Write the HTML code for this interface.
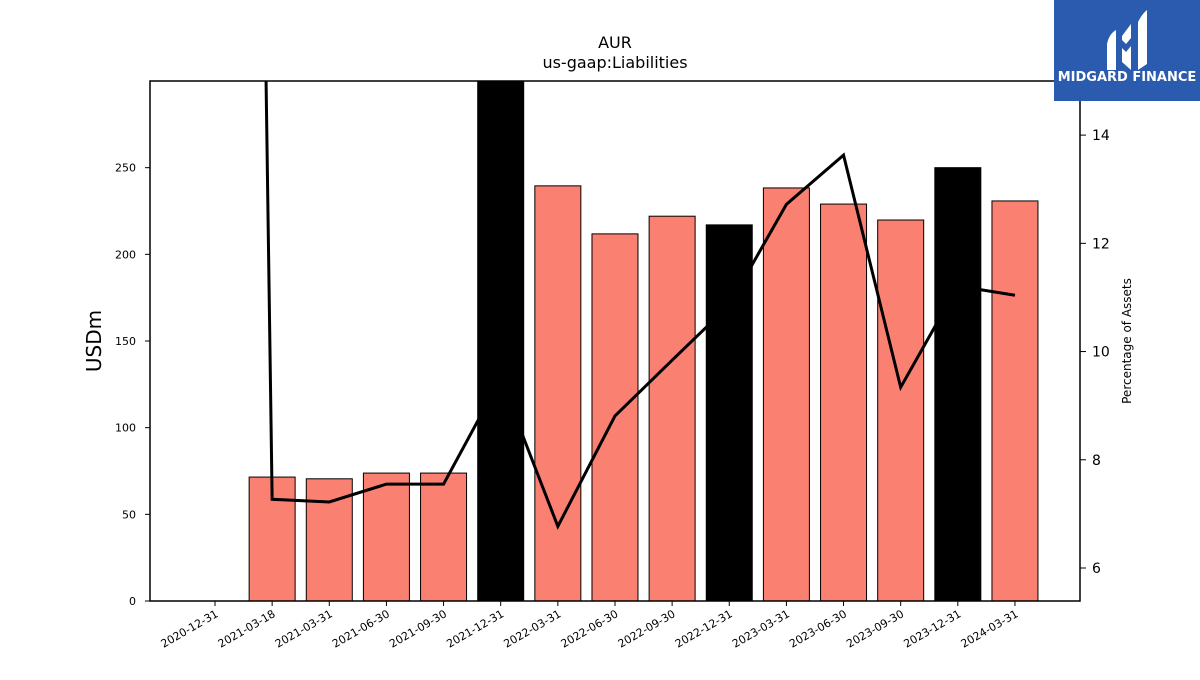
<!DOCTYPE html>
<html><head><meta charset="utf-8"><style>
body{margin:0;background:#fff;font-family:"Liberation Sans","DejaVu Sans",sans-serif;}
svg text{font-family:"DejaVu Sans","Liberation Sans",sans-serif;}
</style></head><body>
<svg id="chart" width="1200" height="675" xmlns="http://www.w3.org/2000/svg">
<rect width="1200" height="675" fill="#fff"/>
<text x="615" y="48" text-anchor="middle" font-size="16">AUR</text>
<text x="615" y="68" text-anchor="middle" font-size="16">us-gaap:Liabilities</text>
<g id="bars"></g><g id="line"></g>
<rect x="150" y="81" width="930" height="520" fill="none" stroke="#000" stroke-width="1.5"/>
<g id="axes"></g>
<text transform="translate(101,341) rotate(-90)" text-anchor="middle" font-size="20">USDm</text>
<text transform="translate(1131,341) rotate(-90)" text-anchor="middle" font-size="12">Percentage of Assets</text>
<g>
<rect x="1054" y="0" width="146" height="101" fill="#2b5bae"/>
<path d="M1107 44 Q1109 34 1116 30 L1116 70 L1107 70 Z" fill="#fff"/>
<path d="M1122 36 L1131 24 L1131 38 L1126 44 L1122 40Z M1122 48 L1126 52 L1131 46 L1131 70 L1122 62Z" fill="#fff"/>
<path d="M1138 22 Q1142 14 1147 10 L1147 64 L1138 70 Z" fill="#fff"/>
<text x="1127" y="81" text-anchor="middle" font-size="13" font-weight="bold" fill="#fff" font-family="Liberation Sans">MIDGARD FINANCE</text>
</g>
</svg>
<script>
const categories=["2020-12-31","2021-03-18","2021-03-31","2021-06-30","2021-09-30","2021-12-31","2022-03-31","2022-06-30","2022-09-30","2022-12-31","2023-03-31","2023-06-30","2023-09-30","2023-12-31","2024-03-31"];
const barValues=[0,71.5,70.5,73.8,73.8,320,239.5,211.8,222,217,238.3,229,219.8,250,230.8];
const annual=[false,false,false,false,false,true,false,false,false,true,false,false,false,true,false];
const pctValues=[80,7.27,7.22,7.55,7.55,9.5,6.77,8.81,9.84,10.86,12.72,13.63,9.34,11.21,11.04];
const leftTicks=[0,50,100,150,200,250];
const rightTicks=[6,8,10,12,14];
const NS="http://www.w3.org/2000/svg";
const x=i=>215+i*57.14;
const yL=v=>601-v*(520/300);
const yR=v=>601-(v-5.39)*(520/9.61);
function mk(t,a,p){const e=document.createElementNS(NS,t);for(const k in a)e.setAttribute(k,a[k]);p.appendChild(e);return e;}
const bars=document.getElementById('bars'),line=document.getElementById('line'),axes=document.getElementById('axes');
barValues.forEach((v,i)=>{if(v<=0)return;const top=Math.max(yL(v),81);
const r=mk('rect',{x:x(i)-23,y:top,width:46,height:601-top,fill:annual[i]?'#000':'#fa8072',stroke:'#000','stroke-width':1},bars);

});
const cp=mk('clipPath',{id:'clip'},line);mk('rect',{x:150,y:81,width:930,height:520},cp);
const pl=mk('polyline',{points:pctValues.map((v,i)=>x(i)+','+yR(v)).join(' '),fill:'none',stroke:'#000','stroke-width':3,'clip-path':'url(#clip)'},line);


leftTicks.forEach(t=>{const y=yL(t);mk('line',{x1:145,x2:150,y1:y,y2:y,stroke:'#000'},axes);
const tx=mk('text',{x:136,y:y+4,'text-anchor':'end','font-size':11},axes);tx.textContent=t;

});
rightTicks.forEach(t=>{const y=yR(t);mk('line',{x1:1080,x2:1086,y1:y,y2:y,stroke:'#000'},axes);
const tx=mk('text',{x:1092,y:y+5,'font-size':14},axes);tx.textContent=t;

});
categories.forEach((c,i)=>{mk('line',{x1:x(i),x2:x(i),y1:601,y2:606,stroke:'#000'},axes);
const tx=mk('text',{x:x(i)+4,y:616,'text-anchor':'end','font-size':11,transform:'rotate(-30 '+(x(i)+4)+' 616)'},axes);tx.textContent=c;

});
</script>
</body></html>
